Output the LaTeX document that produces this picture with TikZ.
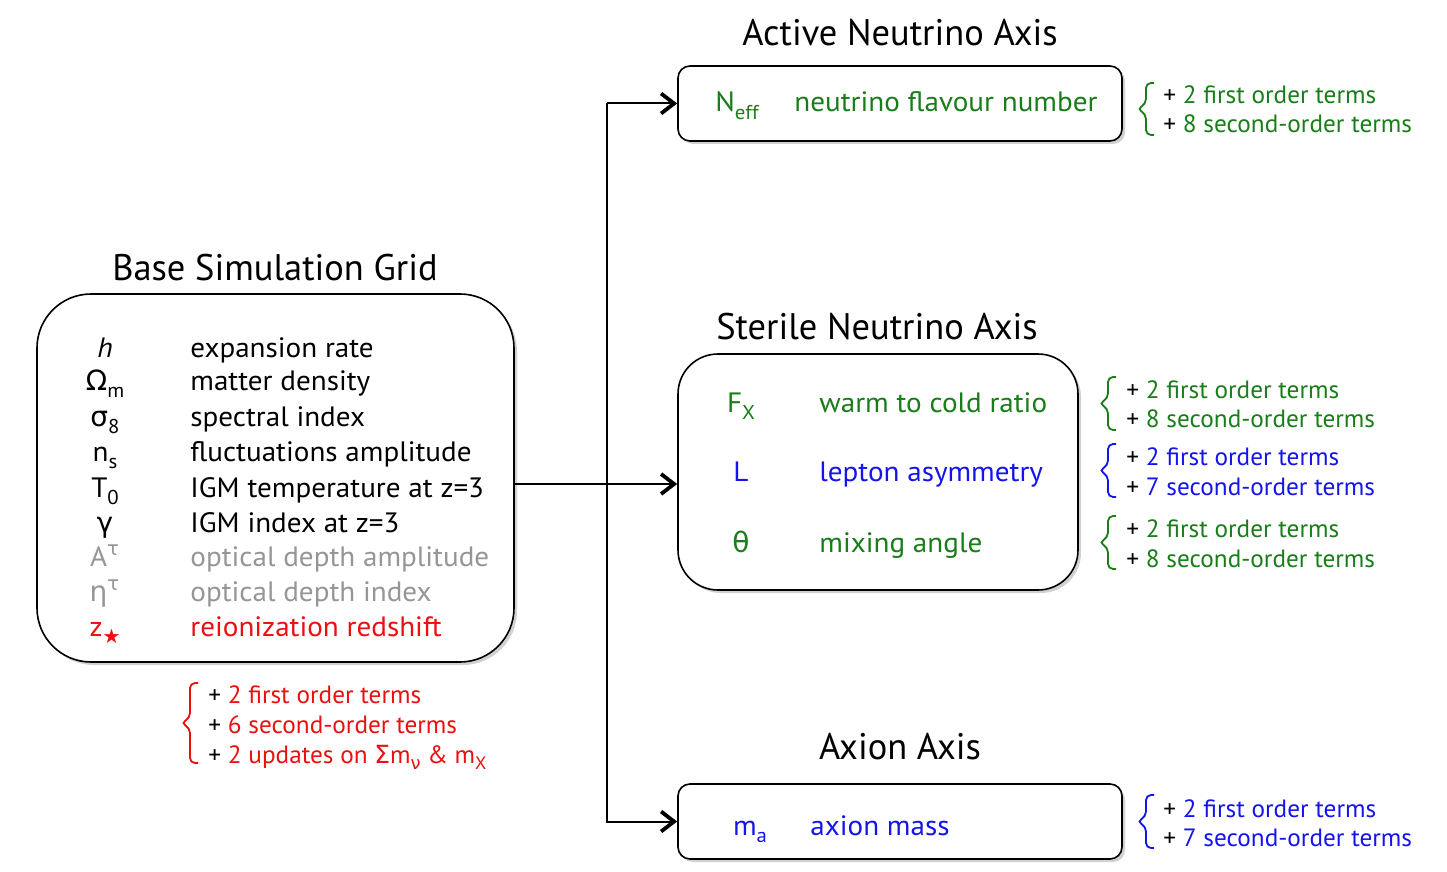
\documentclass[tikz,border=0pt]{standalone}
\usepackage{fontspec}
\setmainfont{PT Sans}[FakeStretch=1.04]
\newfontfamily\gr{DejaVu Sans}
\newfontfamily\ttlfont{PT Sans}[FakeStretch=0.985]
\newfontfamily\brfont{PT Sans}[FakeStretch=1.01]
\usetikzlibrary{arrows.meta,shadows,calc}
\definecolor{cgreen}{RGB}{25,125,25}
\definecolor{cblue}{RGB}{20,20,235}
\definecolor{cred}{RGB}{235,15,15}
\definecolor{cgrey}{RGB}{150,150,150}
\newcommand\sbs[1]{\raisebox{-0.55ex}{\fontsize{10}{10}\selectfont #1}}
\newcommand\sbsb[1]{\raisebox{-0.5ex}{\fontsize{9}{9}\selectfont #1}}
\newcommand\sps[1]{\textsuperscript{#1}}
% bracket-like brace: #1 colour, #2 x of vertical line, #3 top y, #4 bottom y
\newcommand\mybrace[4]{%
  \draw[#1, line width=0.9pt, rounded corners=2.5pt]
    ($(#2,#3)+(8,0)$) -- (#2,#3) -- ($(#2,{(#3+#4)/2})+(0,-5)$) -- ($(#2,{(#3+#4)/2})+(-9,0)$)
    -- ($(#2,{(#3+#4)/2})+(0,5)$) -- (#2,#4) -- ($(#2,#4)+(8,0)$);}
\tikzset{
  panel/.style={draw=black, line width=0.8pt, fill=white,
    drop shadow={shadow xshift=1.5pt, shadow yshift=-1.5pt, fill=black, opacity=0.18}},
  ttl/.style={font=\ttlfont\fontsize{18.5}{20}\selectfont, anchor=base, inner sep=0pt},
  sym/.style={font=\fontsize{14}{15}\selectfont, anchor=base, inner sep=0pt},
  desc/.style={font=\fontsize{14}{15}\selectfont, anchor=base west, inner sep=0pt},
  brtxt/.style={font=\brfont\fontsize{12.5}{13}\selectfont, anchor=base west, inner sep=0pt},
  arr/.style={line width=1pt, -{Straight Barb[length=6.5pt,width=10pt,line width=1.9pt]}},
}
\begin{document}
\begin{tikzpicture}[x=0.5pt,y=-0.5pt]
\useasboundingbox (0,0) rectangle (1447,872);

% ---------- Base Simulation Grid ----------
\node[panel, rounded corners=27pt, minimum width=238.5pt, minimum height=184pt] (base) at (275.5,478) {};
\node[ttl] (tbase) at (275,280) {Base Simulation Grid};
\node[sym] (s1) at (105,357) {\textit{h}};
\node[sym] (s2) at (105,390) {{\gr Ω}\sbs{m}};
\node[sym] (s3) at (105,426) {{\gr σ}\sbs{8}};
\node[sym] (s4) at (105,461) {n\sbs{s}};
\node[sym] (s5) at (105,497) {T\sbs{0}};
\node[sym] (s6) at (105,532) {{\gr γ}};
\node[sym, text=cgrey] (s7) at (105,566) {A\sps{\gr τ}};
\node[sym, text=cgrey] (s8) at (105,601) {{\gr η}\sps{\gr τ}};
\node[sym, text=cred] (s9) at (105,636) {z\sbs{\gr ★}};
\node[desc] (d1) at (190,357) {expansion rate};
\node[desc] (d2) at (190,390) {matter density};
\node[desc] (d3) at (190,426) {spectral index};
\node[desc] (d4) at (190,461) {fluctuations amplitude};
\node[desc] (d5) at (190,497) {IGM temperature at z=3};
\node[desc] (d6) at (190,532) {IGM index at z=3};
\node[desc, text=cgrey] (d7) at (190,566) {optical depth amplitude};
\node[desc, text=cgrey] (d8) at (190,601) {optical depth index};
\node[desc, text=cred] (d9) at (190,636) {reionization redshift};
\mybrace{cred}{190}{683}{763}
\node[brtxt] (r1) at (208,703) {+ \textcolor{cred}{2 first order terms}};
\node[brtxt] (r2) at (208,733) {+ \textcolor{cred}{6 second-order terms}};
\node[brtxt] (r3) at (208,763) {+ \textcolor{cred}{2 updates on {\gr Σ}m\sbsb{\gr ν} \& m\sbsb{X}}};

% ---------- Active Neutrino Axis ----------
\node[panel, rounded corners=6pt, minimum width=222pt, minimum height=37.5pt] (active) at (900,103.5) {};
\node[ttl] (tact) at (900,46) {Active Neutrino Axis};
\node[sym, text=cgreen] (a1) at (737,112) {N\sbs{eff}};
\node[desc, text=cgreen] (a2) at (794,112) {neutrino flavour number};
\mybrace{cgreen}{1146}{83}{135}
\node[brtxt] (a3) at (1163,104) {+ \textcolor{cgreen}{2 first order terms}};
\node[brtxt] (a4) at (1163,133) {+ \textcolor{cgreen}{8 second-order terms}};

% ---------- Sterile Neutrino Axis ----------
\node[panel, rounded corners=20pt, minimum width=200pt, minimum height=118pt] (sterile) at (878,472) {};
\node[ttl] (tste) at (877,339) {Sterile Neutrino Axis};
\node[sym, text=cgreen] (f1) at (741,412) {F\sbs{X}};
\node[desc, text=cgreen] (f2) at (819,412) {warm to cold ratio};
\node[sym, text=cblue] (l1) at (741,481) {L};
\node[desc, text=cblue] (l2) at (819,481) {lepton asymmetry};
\node[sym, text=cgreen] (t1) at (741,552) {{\gr θ}};
\node[desc, text=cgreen] (t2) at (819,552) {mixing angle};
\mybrace{cgreen}{1108}{377}{430}
\node[brtxt] (sf1) at (1126,398) {+ \textcolor{cgreen}{2 first order terms}};
\node[brtxt] (sf2) at (1126,427) {+ \textcolor{cgreen}{8 second-order terms}};
\mybrace{cblue}{1108}{444}{497}
\node[brtxt] (sl1) at (1126,465) {+ \textcolor{cblue}{2 first order terms}};
\node[brtxt] (sl2) at (1126,495) {+ \textcolor{cblue}{7 second-order terms}};
\mybrace{cgreen}{1108}{516}{569}
\node[brtxt] (st1) at (1126,537) {+ \textcolor{cgreen}{2 first order terms}};
\node[brtxt] (st2) at (1126,567) {+ \textcolor{cgreen}{8 second-order terms}};

% ---------- Axion Axis ----------
\node[panel, rounded corners=6pt, minimum width=222pt, minimum height=37.5pt] (axion) at (900,821.5) {};
\node[ttl] (tax) at (900,759) {Axion Axis};
\node[sym, text=cblue] (m1) at (750,835) {m\sbs{a}};
\node[desc, text=cblue] (m2) at (810,835) {axion mass};
\mybrace{cblue}{1146}{795}{848}
\node[brtxt] (x1) at (1163,817) {+ \textcolor{cblue}{2 first order terms}};
\node[brtxt] (x2) at (1163,846) {+ \textcolor{cblue}{7 second-order terms}};

% ---------- connectors ----------
\coordinate (J) at (607,484);
\draw[arr] (base.east |- J) -- (sterile.west |- J);
\draw[arr] (J |- active.west) -- (active.west);
\draw[arr] (J |- active.west) -- (J |- axion.west) -- (axion.west);
\end{tikzpicture}
\end{document}
